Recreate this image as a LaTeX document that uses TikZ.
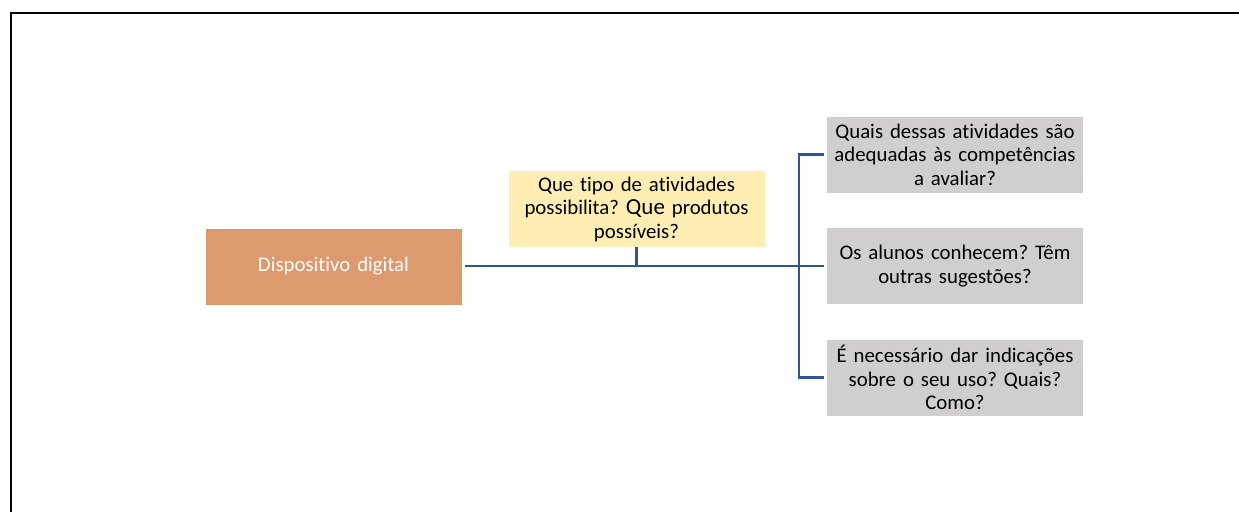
\documentclass[tikz,border=0pt]{standalone}
\usepackage{fontspec}
\setmainfont[Ligatures=NoCommon]{Carlito}
\definecolor{dispcol}{RGB}{221,154,110}
\definecolor{tipocol}{RGB}{254,238,180}
\definecolor{qcol}{RGB}{208,206,206}
\definecolor{linkcol}{RGB}{47,85,151}
\tikzset{
  box/.style={minimum width=256pt, minimum height=76pt, inner sep=2pt,
    align=center, text width=252pt, font=\fontsize{20.8}{23.5}\selectfont},
  link/.style={draw=linkcol, line width=2.2pt}
}
\frenchspacing
\begin{document}
\begin{tikzpicture}[x=1pt,y=-1pt]
  \useasboundingbox (0,0) rectangle (1239,512);

  % Frame
  \draw[line width=2pt] (10.5,512) -- (10.5,13) -- (1239,13);

  \node[box, fill=dispcol, text=white] (disp) at (333.5,266.5) {Dispositivo digital};
  \node[box, fill=tipocol] (tipo) at (636.5,209) {Que tipo de atividades\\possibilita? {\fontsize{23}{23.5}\selectfont Que} produtos\\possíveis?};

  % Questions on the right
  \foreach \n/\y/\t in {1/154.5/{Quais dessas atividades são\\adequadas às competências\\a avaliar?},
                        2/266/{Os alunos conhecem? Têm\\outras sugestões?},
                        3/377.5/{É necessário dar indicações\\sobre o seu uso? Quais?\\Como?}} {
    \node[box, fill=qcol] (q\n) at (955,\y) {\t};
  }

  \coordinate (bx) at (799,266);

  % Links
  \draw[link, shorten <=3pt, shorten >=3pt] (disp.east |- bx) -- (q2.west);
  \draw[link] (tipo.south) -- (tipo.south |- bx);
  \draw[link, shorten <=3pt, shorten >=3pt] (q1.west) -| (bx) |- (q3.west);
\end{tikzpicture}
\end{document}
